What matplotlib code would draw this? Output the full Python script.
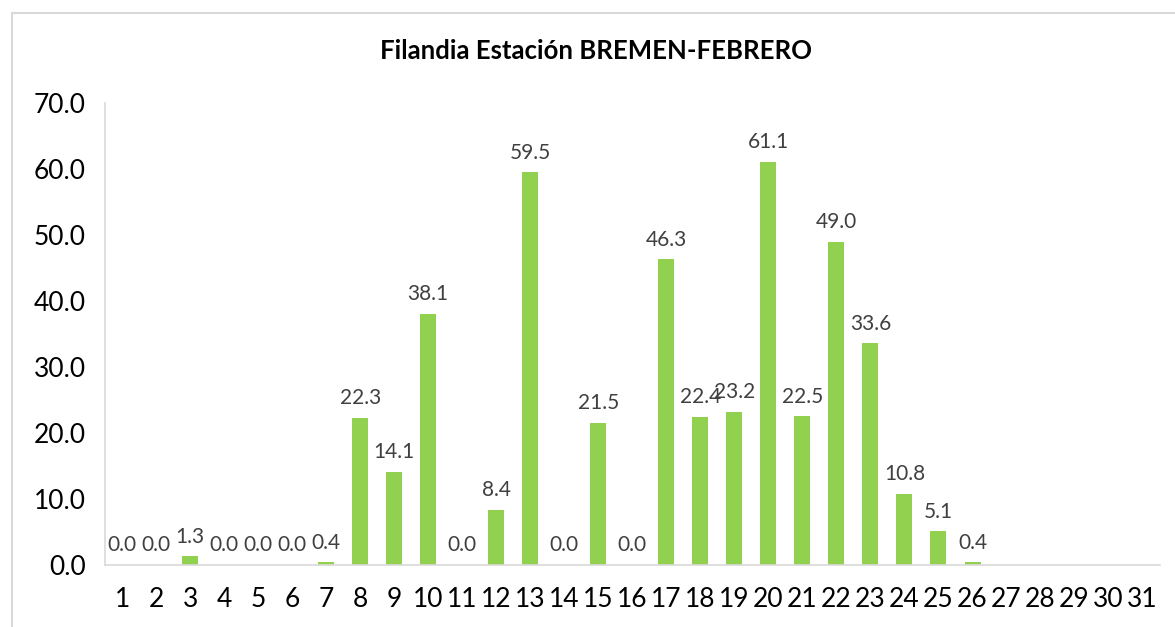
import matplotlib
matplotlib.use("Agg")
import matplotlib.pyplot as plt
from matplotlib.patches import Rectangle
import numpy as np

plt.rcParams['font.family'] = ['Lato', 'DejaVu Sans']

days = list(range(1, 32))
values = [0.0, 0.0, 1.3, 0.0, 0.0, 0.0, 0.4, 22.3, 14.1, 38.1, 0.0, 8.4, 59.5, 0.0,
          21.5, 0.0, 46.3, 22.4, 23.2, 61.1, 22.5, 49.0, 33.6, 10.8, 5.1, 0.4]
title = "Filandia Estación BREMEN-FEBRERO"

fig = plt.figure(figsize=(11.75, 6.27), dpi=100)
ax = fig.add_axes([0.0894, 0.0989, 0.8975, 0.7368])

# outer chart border
fig.patches.append(Rectangle((0.010, -0.05), 1.2, 1.03, transform=fig.transFigure,
                             fill=False, edgecolor='#d9d9d9', linewidth=1.5))

x = np.arange(1, len(values) + 1)
ax.bar(x, values, width=0.47, color='#92d050', zorder=2)
for xi, v in zip(x, values):
    ax.annotate(f"{v:.1f}", (xi, v), xytext=(0, 7), textcoords='offset points',
                ha='center', va='bottom', fontsize=15, color='#404040')

ax.set_xlim(0.5, 31.5)
ax.set_ylim(0, 70)
ax.set_yticks(np.arange(0, 71, 10))
ax.set_yticklabels([f"{t:.1f}" for t in np.arange(0, 71, 10)], fontsize=19)
ax.set_xticks(days)
ax.set_xticklabels([str(d) for d in days], fontsize=19)
ax.tick_params(axis='x', length=0, pad=16)
ax.tick_params(axis='y', length=0, pad=14)
for s in ['top', 'right']:
    ax.spines[s].set_visible(False)
for s in ['left', 'bottom']:
    ax.spines[s].set_color('#d9d9d9')
    ax.spines[s].set_linewidth(1.2)

fig.text(0.507, 0.918, title, ha='center', va='center', fontsize=18.5, fontweight='bold')

fig.savefig("out.png", dpi=100)
